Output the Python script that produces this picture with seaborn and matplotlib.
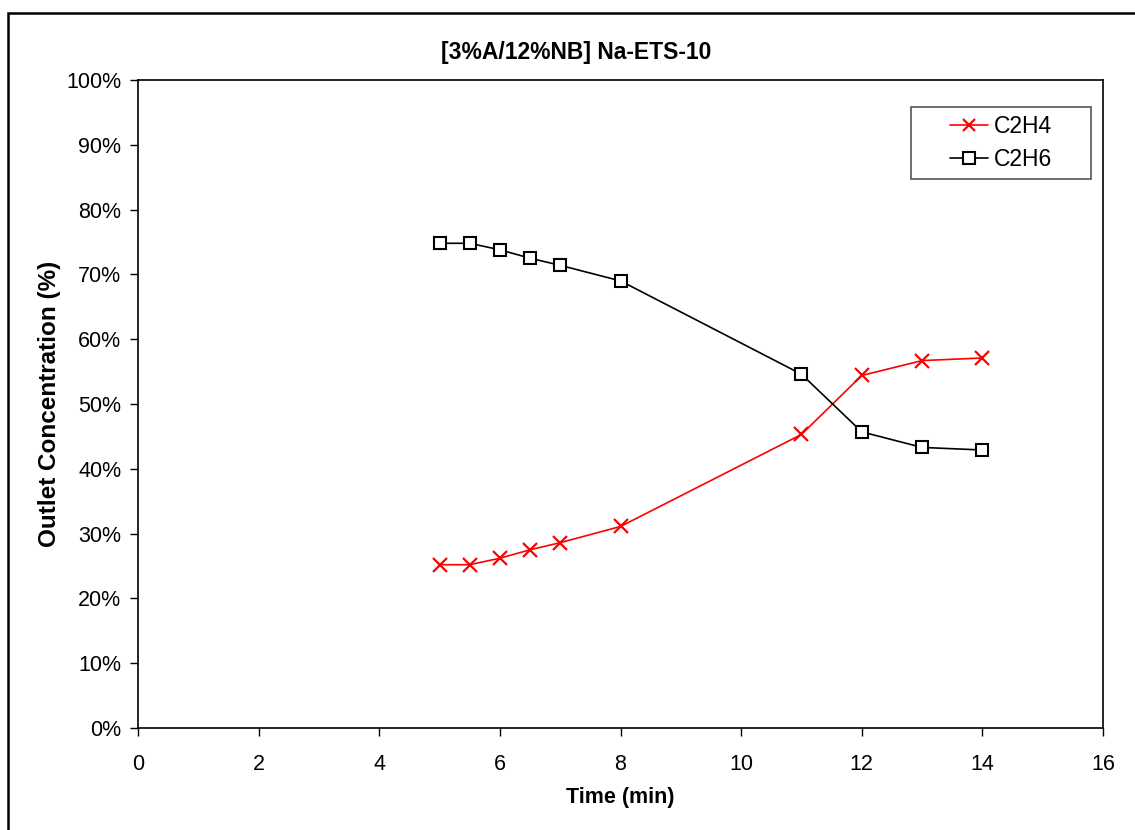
import matplotlib
matplotlib.use("Agg")
import matplotlib.pyplot as plt
import seaborn as sns
import pandas as pd
from matplotlib.patches import Rectangle
from matplotlib.ticker import PercentFormatter, MultipleLocator

time_min = [5, 5.5, 6, 6.5, 7, 8, 11, 12, 13, 14]
c2h4 = [25.2, 25.2, 26.2, 27.5, 28.6, 31.1, 45.3, 54.4, 56.7, 57.1]
c2h6 = [74.8, 74.8, 73.8, 72.5, 71.4, 69.0, 54.6, 45.7, 43.3, 42.9]
series_names = ["C2H4", "C2H6"]

df = pd.DataFrame({"Time": time_min * 2,
                   "Conc": c2h4 + c2h6,
                   "Gas": [series_names[0]] * len(time_min) + [series_names[1]] * len(time_min)})

sns.set_style("white")
plt.rcParams['font.family'] = ['Liberation Sans', 'DejaVu Sans']
plt.rcParams['text.color'] = 'black'
plt.rcParams['axes.labelcolor'] = 'black'
plt.rcParams['xtick.color'] = 'black'
plt.rcParams['ytick.color'] = 'black'

fig = plt.figure(figsize=(11.35, 8.3), dpi=100)
ax = fig.add_axes([138/1135, 1-728/830, (1103-138)/1135, (728-80)/830])

sns.lineplot(data=df[df.Gas == "C2H4"], x="Time", y="Conc", ax=ax, color="#ff0000",
             marker="x", markersize=9.5, markeredgewidth=1.6, markeredgecolor="#ff0000",
             linewidth=1.2, label="C2H4", estimator=None, sort=False)
sns.lineplot(data=df[df.Gas == "C2H6"], x="Time", y="Conc", ax=ax, color="black",
             marker="s", markersize=9, markerfacecolor="white", markeredgecolor="black",
             markeredgewidth=1.5, linewidth=1.2, label="C2H6", estimator=None, sort=False)

ax.set_xlim(0, 16)
ax.set_ylim(0, 100)
ax.xaxis.set_major_locator(MultipleLocator(2))
ax.yaxis.set_major_locator(MultipleLocator(10))
ax.yaxis.set_major_formatter(PercentFormatter(decimals=0))
for s in ax.spines.values():
    s.set_color("black")
    s.set_linewidth(1.2)
ax.tick_params(axis="both", direction="out", length=6, width=1, color="black",
               labelsize=15.5, bottom=True, left=True, labelcolor="black")
ax.tick_params(axis="x", pad=13)
ax.tick_params(axis="y", pad=6)

ax.set_xlabel("Time (min)", fontsize=15.5, fontweight="bold", labelpad=8, color="black")
ax.set_ylabel("Outlet Concentration (%)", fontsize=17.5, fontweight="bold", labelpad=4, color="black")
fig.text(576/1135, 1-52/830, "[3%A/12%NB] Na-ETS-10", fontsize=16.5, fontweight="bold",
         color="black", ha="center", va="center")

leg = ax.legend(loc="center", bbox_to_anchor=(1001/1135, 1-143/830),
                bbox_transform=fig.transFigure, fontsize=16.5, frameon=False,
                handlelength=1.66, borderpad=0, labelspacing=0.45,
                handletextpad=0.28)
for t in leg.get_texts():
    t.set_color("black")
for h in leg.get_lines():
    h.set_markersize(9)

fig.patches.append(Rectangle((911/1135, 1-179/830), 180/1135, 72/830,
                             transform=fig.transFigure, fill=False,
                             edgecolor="#555555", linewidth=1.2))
fig.patches.append(Rectangle((8/1135, -0.1), 1.2, 1.1 - 13/830,
                             transform=fig.transFigure, fill=False,
                             edgecolor="black", linewidth=1.8))

fig.savefig("out.png", dpi=100, facecolor="white")
